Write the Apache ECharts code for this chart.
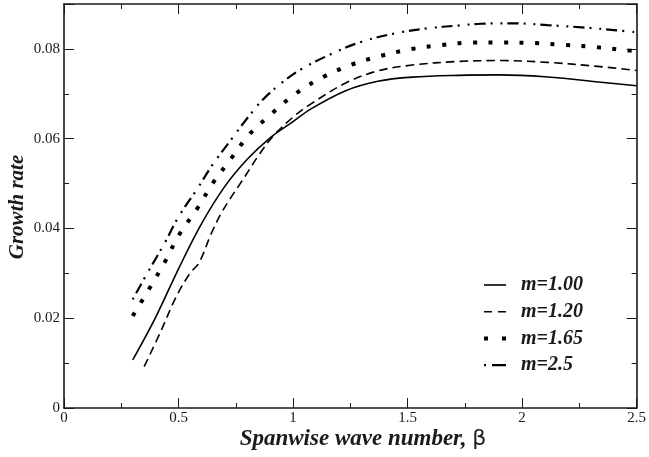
<!DOCTYPE html>
<html>
<head>
<meta charset="utf-8">
<script src="https://cdn.jsdelivr.net/npm/echarts@6/dist/echarts.min.js"></script>
<style>
  html, body { margin: 0; padding: 0; background: #fff; }
  #chart { width: 649px; height: 457px; }
</style>
</head>
<body>
<div id="chart"></div>
<script>
// Growth rate against spanwise wave number beta, for four values of m
const seriesNames = ['m=1.00', 'm=1.20', 'm=1.65', 'm=2.5'];

// [beta, growth rate]
const m100 = [
  [0.30, 0.0107], [0.40, 0.0202], [0.50, 0.0310], [0.60, 0.0410], [0.70, 0.0492],
  [0.80, 0.0554], [0.90, 0.0602], [1.00, 0.0638], [1.08, 0.0667], [1.23, 0.0707],
  [1.37, 0.0728], [1.52, 0.0737], [1.72, 0.0741], [1.90, 0.0742], [2.10, 0.0738],
  [2.30, 0.0728], [2.50, 0.0718]
];
const m120 = [
  [0.35, 0.0092], [0.42, 0.0168], [0.49, 0.0248], [0.55, 0.0300], [0.59, 0.0324],
  [0.64, 0.0385], [0.68, 0.0428], [0.72, 0.0462], [0.78, 0.0508], [0.85, 0.0563],
  [0.91, 0.0604], [1.00, 0.0648], [1.08, 0.0678], [1.23, 0.0724], [1.37, 0.0751],
  [1.52, 0.0764], [1.72, 0.0772], [1.90, 0.0774], [2.11, 0.0770], [2.33, 0.0761],
  [2.50, 0.0752]
];
const m165 = [
  [0.30, 0.0205], [0.37, 0.0264], [0.44, 0.0325], [0.50, 0.0384], [0.58, 0.0443],
  [0.65, 0.0501], [0.73, 0.0556], [0.81, 0.0610], [0.91, 0.0657], [1.01, 0.0700],
  [1.13, 0.0737], [1.25, 0.0764], [1.38, 0.0784], [1.51, 0.0799], [1.64, 0.0808],
  [1.78, 0.0814], [1.91, 0.0814], [2.05, 0.0813], [2.18, 0.0809], [2.32, 0.0804],
  [2.45, 0.0797], [2.50, 0.0795]
];
const m250 = [
  [0.30, 0.0242], [0.37, 0.0306], [0.44, 0.0368], [0.50, 0.0426], [0.58, 0.0487],
  [0.65, 0.0543], [0.73, 0.0598], [0.81, 0.0652], [0.87, 0.0688], [0.94, 0.0720],
  [1.03, 0.0753], [1.16, 0.0787], [1.30, 0.0816], [1.45, 0.0835], [1.59, 0.0846],
  [1.72, 0.0852], [1.82, 0.0856], [1.97, 0.0857], [2.11, 0.0853], [2.26, 0.0848],
  [2.40, 0.0842], [2.50, 0.0837]
];

// axis ranges
const xRange = { min: 0, max: 2.5, major: 0.5 };
const yRange = { min: 0, max: 0.09, major: 0.02, minor: 0.01 };

const SERIF = "'Liberation Serif', 'DejaVu Serif', serif";
const INK = '#1a1a1a';

// line styles for each curve: solid, dashed, square dots, dash-dot-dot
// (key = short sample drawn in the legend)
const curveStyles = [
  { type: 'solid', key: 'solid', width: 1.6 },
  { type: [8.5, 5], key: [8, 6], width: 1.6 },
  { type: [4, 11.5], key: [4, 14], width: 4 },
  { type: [2, 5, 11, 5, 2, 8], key: [2, 6, 14, 10], width: 2.2 }
];

const chart = echarts.init(document.getElementById('chart'), null, { renderer: 'canvas' });

const axisLine = { show: true, onZero: false, lineStyle: { color: INK, width: 1.6 } };
const tickLabel = { color: INK, fontFamily: SERIF, fontSize: 15 };

function xAxisDef(pos, labels) {
  return {
    type: 'value', position: pos, min: xRange.min, max: xRange.max, interval: xRange.major,
    axisLine: axisLine,
    axisTick: { show: true, inside: true, length: 10, lineStyle: { color: INK, width: 1 } },
    minorTick: { show: true, splitNumber: 2, length: 5, lineStyle: { color: INK, width: 1 } },
    axisLabel: Object.assign({ show: labels, margin: 3 }, tickLabel),
    splitLine: { show: false }, minorSplitLine: { show: false }
  };
}
function yAxisDef(pos, interval, tickLen, labels, line) {
  return {
    type: 'value', position: pos, min: yRange.min, max: yRange.max, interval: interval,
    axisLine: Object.assign({}, axisLine, { show: line }),
    axisTick: { show: true, inside: true, length: tickLen, lineStyle: { color: INK, width: 1 } },
    axisLabel: Object.assign({
      show: labels, margin: 4,
      formatter: function (v) { return v > 0.085 ? '' : String(v); }
    }, tickLabel),
    splitLine: { show: false }
  };
}

function lineSeries(i, data) {
  const st = curveStyles[i];
  return {
    name: seriesNames[i], type: 'line', data: data, xAxisIndex: 0, yAxisIndex: 0,
    smooth: 0.35, symbol: 'none', clip: true, color: '#000',
    lineStyle: { color: '#000', width: st.width, type: st.type, cap: 'butt' },
    emphasis: { disabled: true }
  };
}

chart.setOption({
  animation: false,
  backgroundColor: '#fff',
  grid: { left: 64, right: 9, top: 4, bottom: 49, containLabel: false },
  xAxis: [xAxisDef('bottom', true), xAxisDef('top', false)],
  yAxis: [
    yAxisDef('left', yRange.major, 10, true, true),
    yAxisDef('left', yRange.minor, 5, false, false),
    yAxisDef('right', yRange.major, 10, false, true),
    yAxisDef('right', yRange.minor, 5, false, false)
  ],
  legend: {
    orient: 'vertical', left: 477, top: 270,
    itemWidth: 22, itemHeight: 14, itemGap: 6.7,
    selectedMode: false,
    itemStyle: { color: '#000', opacity: 0 },
    textStyle: {
      color: INK, fontFamily: SERIF, fontSize: 20, fontWeight: 'bold', fontStyle: 'italic',
      lineHeight: 20, padding: [0, 0, 0, 10]
    },
    data: seriesNames.map(function (n, i) {
      return {
        name: n,
        itemStyle: { color: '#000', opacity: 0 },
        lineStyle: { color: '#000', width: curveStyles[i].width, type: curveStyles[i].key, cap: 'butt' }
      };
    })
  },
  series: [
    lineSeries(0, m100),
    lineSeries(1, m120),
    lineSeries(2, m165),
    lineSeries(3, m250)
  ],
  graphic: [
    {
      type: 'text', x: 18, y: 207, rotation: Math.PI / 2,
      style: {
        text: 'Growth rate', fill: INK, fontFamily: SERIF, fontSize: 21,
        fontWeight: 'bold', fontStyle: 'italic', align: 'center', verticalAlign: 'middle'
      }
    },
    {
      type: 'text', x: 363, y: 439,
      style: {
        text: '{t|Spanwise wave number, }{b|β}', align: 'center', verticalAlign: 'middle',
        rich: {
          t: { fill: INK, fontFamily: SERIF, fontSize: 23, fontWeight: 'bold', fontStyle: 'italic' },
          b: { fill: INK, fontFamily: "'DejaVu Sans', sans-serif", fontSize: 22 }
        }
      }
    }
  ]
});
</script>
</body>
</html>
